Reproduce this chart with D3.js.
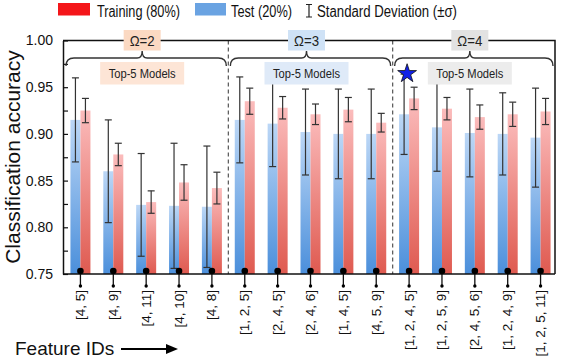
<!DOCTYPE html>
<html>
<head>
<meta charset="utf-8">
<script src="https://cdn.jsdelivr.net/npm/d3@7"></script>
<style>
  body { margin: 0; background: #fff; }
  svg { display: block; font-family: 'Liberation Sans', Arial, sans-serif; }
</style>
</head>
<body>
<div id="chart"></div>
<script>
// Data
const features = ['[4, 5]', '[4, 9]', '[4, 11]', '[4, 10]', '[4, 8]',
  '[1, 2, 5]', '[2, 4, 5]', '[2, 4, 6]', '[1, 4, 5]', '[4, 5, 9]',
  '[1, 2, 4, 5]', '[1, 2, 5, 9]', '[2, 4, 5, 6]', '[1, 2, 4, 9]', '[1, 2, 5, 11]']
const testMean = [0.915, 0.860, 0.824, 0.823, 0.822, 0.915, 0.911, 0.902, 0.900, 0.900, 0.921, 0.907, 0.901, 0.900, 0.896]
const testSd = [0.045, 0.055, 0.055, 0.067, 0.065, 0.046, 0.046, 0.046, 0.048, 0.048, 0.043, 0.047, 0.047, 0.044, 0.053]
const trainMean = [0.925, 0.878, 0.827, 0.848, 0.842, 0.935, 0.928, 0.921, 0.926, 0.912, 0.938, 0.927, 0.918, 0.921, 0.924]
const trainSd = [0.013, 0.012, 0.012, 0.019, 0.017, 0.014, 0.012, 0.011, 0.013, 0.010, 0.012, 0.012, 0.013, 0.013, 0.014]
const groupLabels = ['Ω=2', 'Ω=3', 'Ω=4']
const groupSize = 5
const bestIndex = 10
const yTicks = [0.75, 0.775, 0.80, 0.825, 0.85, 0.875, 0.90, 0.925, 0.95, 0.975, 1.00]

const width = 561
const height = 364
const margin = {left: 64, right: 557, top: 40.5, bottom: 274}

const svg = d3.select('#chart').append('svg')
  .attr('width', width)
  .attr('height', height)

// Gradients
const defs = svg.append('defs')
function gradient(id, top, bottom) {
  const g = defs.append('linearGradient').attr('id', id)
    .attr('x1', 0).attr('y1', 0).attr('x2', 0).attr('y2', 1)
  g.append('stop').attr('offset', '0%').attr('stop-color', top)
  g.append('stop').attr('offset', '100%').attr('stop-color', bottom)
}
gradient('gBlue', '#bcd7f6', '#4b8fdb')
gradient('gRed', '#fbbcbc', '#df5a50')

// Scales
const xScale = d3.scaleBand().domain(features).range([margin.left, margin.right])
const yScale = d3.scaleLinear().domain([0.75, 1.0]).range([margin.bottom, margin.top])
const bw = 10
const cx = d => xScale(d) + xScale.bandwidth() / 2

const data = features.map((f, i) => ({
  f: f, tm: testMean[i], ts: testSd[i], rm: trainMean[i], rs: trainSd[i]
}))

// Bars
svg.append('g').selectAll('rect.test')
  .data(data).join('rect')
  .attr('class', 'test')
  .attr('x', d => cx(d.f) - bw)
  .attr('width', bw)
  .attr('y', d => yScale(d.tm))
  .attr('height', d => yScale(0.75) - yScale(d.tm))
  .style('fill', 'url(#gBlue)')

svg.append('g').selectAll('rect.train')
  .data(data).join('rect')
  .attr('class', 'train')
  .attr('x', d => cx(d.f))
  .attr('width', bw)
  .attr('y', d => yScale(d.rm))
  .attr('height', d => yScale(0.75) - yScale(d.rm))
  .style('fill', 'url(#gRed)')

// Error bars
function errorBars(off, mean, sd) {
  const g = svg.append('g').style('stroke', '#333').style('stroke-width', 1.2)
  data.forEach(d => {
    const x = cx(d.f) + off
    const y1 = yScale(d[mean] + d[sd])
    const y2 = yScale(d[mean] - d[sd])
    g.append('line').attr('x1', x).attr('x2', x).attr('y1', y1).attr('y2', y2)
    g.append('line').attr('x1', x - 3.5).attr('x2', x + 3.5).attr('y1', y1).attr('y2', y1)
    g.append('line').attr('x1', x - 3.5).attr('x2', x + 3.5).attr('y1', y2).attr('y2', y2)
  })
}
errorBars(-bw / 2, 'tm', 'ts')
errorBars(bw / 2, 'rm', 'rs')

// Group separators (dashed)
for (let k = 1; k < groupLabels.length; k++) {
  const x = xScale(features[k * groupSize])
  svg.append('line')
    .attr('x1', x).attr('x2', x)
    .attr('y1', margin.top).attr('y2', margin.bottom)
    .style('stroke', '#555').style('stroke-width', 1.2)
    .style('stroke-dasharray', '4,3')
}

// Frame: top and right
svg.append('path')
  .attr('d', `M63,${margin.top}H555V${margin.bottom}`)
  .style('fill', 'none').style('stroke', '#111').style('stroke-width', 1.5)

// Axes
const lAxis = svg.append('g').attr('transform', 'translate(63,0)')
  .call(d3.axisLeft(yScale)
    .tickValues(yTicks)
    .tickSizeInner(-5)
    .tickSizeOuter(0)
    .tickPadding(10)
    .tickFormat(d => Math.round(d * 1000) % 50 === 0 ? d3.format('.2f')(d) : ''))
lAxis.select('.domain').style('stroke', '#111').style('stroke-width', 1.5)
lAxis.selectAll('.tick line').style('stroke', '#111').style('stroke-width', 1.2)
lAxis.selectAll('.tick text').style('font-size', '14px').style('fill', '#111')
  .style('font-family', "'Liberation Sans', Arial, sans-serif")

svg.append('line')
  .attr('x1', 63).attr('x2', 555)
  .attr('y1', margin.bottom).attr('y2', margin.bottom)
  .style('stroke', '#111').style('stroke-width', 1.5)

// Lollipops + feature labels
const gLab = svg.append('g')
data.forEach(d => {
  const x = cx(d.f)
  gLab.append('line').attr('x1', x).attr('x2', x).attr('y1', 271).attr('y2', 286)
    .style('stroke', '#111').style('stroke-width', 1.3)
  gLab.append('circle').attr('cx', x).attr('cy', 271).attr('r', 3.3).style('fill', '#000')
  gLab.append('circle').attr('cx', x).attr('cy', 286).attr('r', 1.7).style('fill', '#000')
  gLab.append('text')
    .attr('transform', `translate(${x + 4.5},290) rotate(-90)`)
    .style('text-anchor', 'end')
    .style('font-size', '13.5px')
    .style('fill', '#111')
    .text(d.f)
})

// Group headers: Ω boxes, braces, Top-5 boxes
const omegaFill = ['#fbd9c2', '#cfe2f6', '#e2e2e2']
const topFill = ['#fde5d6', '#dfeaf8', '#ececec']
groupLabels.forEach((lab, k) => {
  const x0 = xScale(features[k * groupSize])
  const x1 = k === groupLabels.length - 1 ? 555 : xScale(features[(k + 1) * groupSize])
  const c = (x0 + x1) / 2 - 4
  const l = x0 + 2
  const r = x1 - 2
  // brace
  svg.append('path')
    .attr('d', `M${l},66 Q${l},58 ${l + 8},58 H${c - 5} Q${c},58 ${c},51 Q${c},58 ${c + 5},58 H${r - 8} Q${r},58 ${r},66`)
    .style('fill', 'none').style('stroke', '#333').style('stroke-width', 1.4)
  // omega box
  svg.append('rect').attr('x', c - 18.5).attr('y', 30).attr('width', 37).attr('height', 20.5)
    .style('fill', omegaFill[k])
  svg.append('text').attr('x', c).attr('y', 45.5)
    .style('text-anchor', 'middle').style('font-size', '14px').style('fill', '#222')
    .attr('textLength', 25).attr('lengthAdjust', 'spacingAndGlyphs')
    .text(lab)
  // top-5 box
  svg.append('rect').attr('x', c - 42).attr('y', 62).attr('width', 84).attr('height', 22.5)
    .style('fill', topFill[k])
  svg.append('text').attr('x', c).attr('y', 77.5)
    .style('text-anchor', 'middle').style('font-size', '12px').style('fill', '#222')
    .attr('textLength', 67).attr('lengthAdjust', 'spacingAndGlyphs')
    .text('Top-5 Models')
})

// Best model star
const star = d3.symbol().type(d3.symbolStar).size(110)
const best = data[bestIndex]
svg.append('path')
  .attr('d', star())
  .attr('transform', `translate(${cx(best.f) - 2},${yScale(best.tm + best.ts) - 0.5})`)
  .style('fill', '#1020e8').style('stroke', '#111').style('stroke-width', 0.8)

// Y axis title
svg.append('text')
  .attr('transform', 'translate(20,157) rotate(-90)')
  .style('text-anchor', 'middle')
  .style('font-size', '21px')
  .style('fill', '#111')
  .text('Classification accuracy')

// X axis title + arrow
svg.append('text').attr('x', 15).attr('y', 355)
  .style('font-size', '19px').style('fill', '#111')
  .text('Feature IDs')
svg.append('line').attr('x1', 121).attr('x2', 168).attr('y1', 349).attr('y2', 349)
  .style('stroke', '#000').style('stroke-width', 2)
svg.append('path').attr('d', 'M166,344 L178,349 L166,354 Z').style('fill', '#000')

// Legend
const leg = svg.append('g')
leg.append('rect').attr('x', 58).attr('y', 3).attr('width', 32).attr('height', 12.5).style('fill', '#f4161a')
leg.append('text').attr('x', 97).attr('y', 16.5).style('font-size', '16px').style('fill', '#111')
  .attr('textLength', 83).attr('lengthAdjust', 'spacingAndGlyphs')
  .text('Training (80%)')
leg.append('rect').attr('x', 195).attr('y', 3).attr('width', 31).attr('height', 12.5).style('fill', '#6aa3e2')
leg.append('text').attr('x', 231).attr('y', 16.5).style('font-size', '16px').style('fill', '#111')
  .attr('textLength', 61).attr('lengthAdjust', 'spacingAndGlyphs')
  .text('Test (20%)')
leg.append('path').attr('d', 'M306,4.5H312M309,4.5V17M306,17H312')
  .style('stroke', '#222').style('stroke-width', 1.2).style('fill', 'none')
leg.append('text').attr('x', 317).attr('y', 16.5).style('font-size', '16px').style('fill', '#111')
  .attr('textLength', 140).attr('lengthAdjust', 'spacingAndGlyphs')
  .text('Standard Deviation (±σ)')
</script>
</body>
</html>
